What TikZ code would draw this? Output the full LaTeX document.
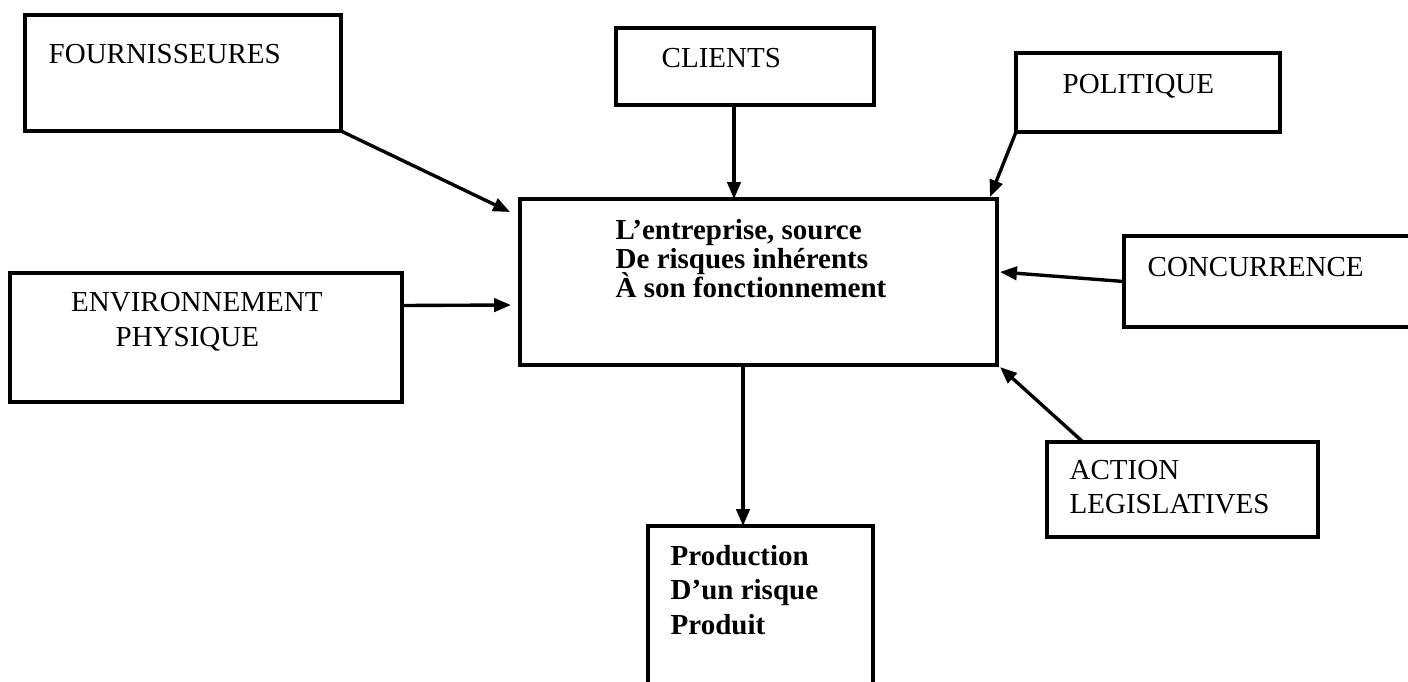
\documentclass[tikz,border=0pt]{standalone}
\usepackage{fontspec}
\setmainfont{Liberation Serif}
\usetikzlibrary{arrows.meta}

\newdimen\pxu
\pxu=0.41379pt
\newcommand{\evenlines}{\lineskiplimit=-10pt\relax}

\tikzset{
  box/.style 2 args={draw, line width=1.6pt, inner sep=0pt, outer sep=0pt,
    minimum width=#1*\pxu, minimum height=#2*\pxu},
  % multi-line texts sit on the baseline of their last line
  txt/.style={anchor=base west, inner sep=0pt, align=left,
    font={\fontsize{12}{14.1}\selectfont\evenlines}},
  txtb/.style={txt, font={\fontsize{12}{12}\selectfont\bfseries\evenlines}}
}

\begin{document}
\begin{tikzpicture}[x=0.41379pt, y=-0.41379pt, line width=1.4pt,
    >={Triangle[length=7pt,width=5.5pt]}]

    \useasboundingbox (0,0) rectangle (1408,682);
    \clip (0,0) rectangle (1408,682);

    \node[box={316}{116}] (four) at (183, 73) {};
    \node[box={258}{77}] (cli) at (745, 66.5) {};
    \node[box={264}{79}] (pol) at (1148, 92.5) {};
    \node[box={477}{166}] (ent) at (758.5, 282) {};
    \node[box={316}{91}] (conc) at (1282, 281.5) {};
    \node[box={392}{129}] (env) at (206, 337.5) {};
    \node[box={271}{95}] (act) at (1182.5, 489.5) {};
    \node[box={225}{174}] (prod) at (760.5, 613) {};

    \node[txt] (four-t) at (47, 63) {FOURNISSEURES};
    \node[txt] (cli-t) at (660, 67) {CLIENTS};
    \node[txt] (pol-t) at (1061, 93) {POLITIQUE};
    \node[txtb] (ent-t) at (614, 297) {L’entreprise, source\\De risques inhérents\\À son fonctionnement};
    \node[txt] (conc-t) at (1146, 276) {CONCURRENCE};
    \node[txt] (env-t) at (69.5, 346) {ENVIRONNEMENT\\\hspace*{44.5\pxu}PHYSIQUE};
    \node[txt, font={\fontsize{12}{13.7}\selectfont\evenlines}] (act-t) at (1068, 513) {ACTION\\LEGISLATIVES};
    \node[txtb, font={\fontsize{12}{14.1}\selectfont\bfseries\evenlines}] (prod-t) at (669, 634) {Production\\D’un risque\\Produit};

    \draw [->] (four.south east) to ([shift={(-10,13)}]ent.north west);
    \draw [->] ([shift={(-11,0)}]cli.south) to ([shift={(-24.5,0)}]ent.north);
    \draw [->] (pol.south west) to ([shift={(-7,-2)}]ent.north east);
    \draw [->] (conc.west) to ([shift={(3,-10)}]ent.east);
    \draw [->] ([shift={(0,-32)}]env.east) to ([shift={(-9,23)}]ent.west);
    \draw [->] ([shift={(-15.5,0)}]ent.south) to ([shift={(-17.5,0)}]prod.north);
    \draw [->] ([shift={(36,0)}]act.north west) to ([shift={(3,2)}]ent.south east);

  \end{tikzpicture}
\end{document}
